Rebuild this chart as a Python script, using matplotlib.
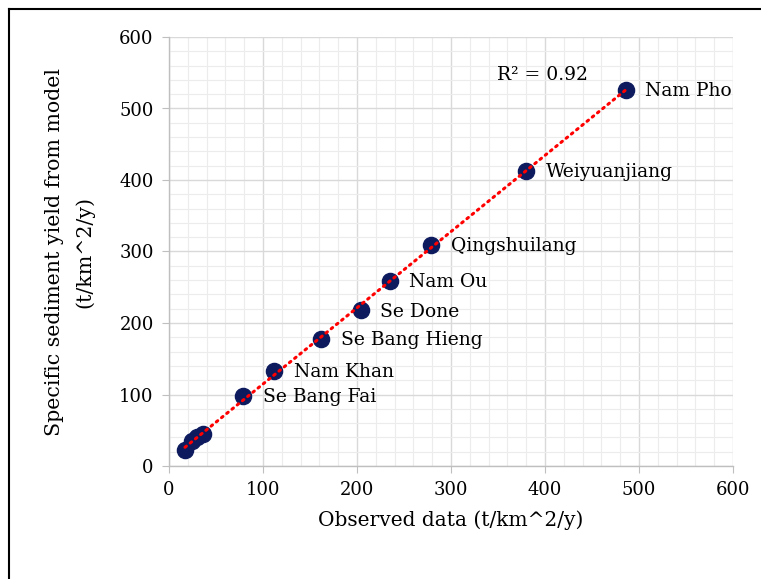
import numpy as np
import matplotlib
matplotlib.use("Agg")
import matplotlib.pyplot as plt
from matplotlib.lines import Line2D
from matplotlib.ticker import MultipleLocator

observed = [17, 24.5, 30, 36, 79, 112, 162, 204, 235, 279, 380, 486]
modeled = [22, 35, 40, 45, 98, 133, 178, 218, 259, 309, 413, 526]
names = ["", "", "", "", "Se Bang Fai", "Nam Khan", "Se Bang Hieng", "Se Done",
         "Nam Ou", "Qingshuilang", "Weiyuanjiang", "Nam Pho"]
r2_text = "R² = 0.92"

plt.rcParams['font.family'] = ['DejaVu Serif']
fig = plt.figure(figsize=(7.61, 5.79), dpi=100)
ax = fig.add_axes([169/761, 1-466/579, (733-169)/761, (466-37)/579])

ax.set_xlim(0, 600)
ax.set_ylim(0, 600)
ax.xaxis.set_major_locator(MultipleLocator(100))
ax.yaxis.set_major_locator(MultipleLocator(100))
ax.xaxis.set_minor_locator(MultipleLocator(20))
ax.yaxis.set_minor_locator(MultipleLocator(20))
ax.grid(which='major', color='#d9d9d9', lw=1.0, zorder=0)
ax.grid(which='minor', color='#ececec', lw=0.8, zorder=0)
ax.set_axisbelow(True)
for s in ['top', 'right']:
    ax.spines[s].set_visible(False)
for s in ['left', 'bottom']:
    ax.spines[s].set_color('#bfbfbf')
    ax.spines[s].set_linewidth(1.0)
ax.tick_params(which='major', direction='out', length=5, color='#bfbfbf', labelsize=13, pad=6)
ax.tick_params(which='minor', length=0)

x = np.array(observed)
y = np.array(modeled)
ax.scatter(x, y, s=135, color='#0d1b5e', zorder=3)
coef = np.polyfit(x, y, 1)
xf = np.array([x.min(), x.max()])
ax.plot(xf, np.polyval(coef, xf), color='#ff0000', lw=2.2, linestyle=(0, (0.6, 1.6)),
        dash_capstyle='round', zorder=4)

for xi, yi, n in zip(observed, modeled, names):
    if n:
        ax.annotate(n, (xi, yi), xytext=(14, -1), textcoords='offset points',
                    va='center', ha='left', fontsize=13.5)

ax.text(349, 547, r2_text, fontsize=13.5, ha='left', va='center')

ax.set_xlabel("Observed data (t/km^2/y)", fontsize=14.5, labelpad=8)
ax.set_ylabel("Specific sediment yield from model\n(t/km^2/y)", fontsize=14.8,
              labelpad=18, linespacing=1.7)

fig.add_artist(Line2D([9/761, 9/761], [0, 1 - 9/579], transform=fig.transFigure,
                      color='black', lw=1.5))
fig.add_artist(Line2D([9/761, 1], [1 - 9/579, 1 - 9/579], transform=fig.transFigure,
                      color='black', lw=1.5))

fig.savefig("out.png", dpi=100)
